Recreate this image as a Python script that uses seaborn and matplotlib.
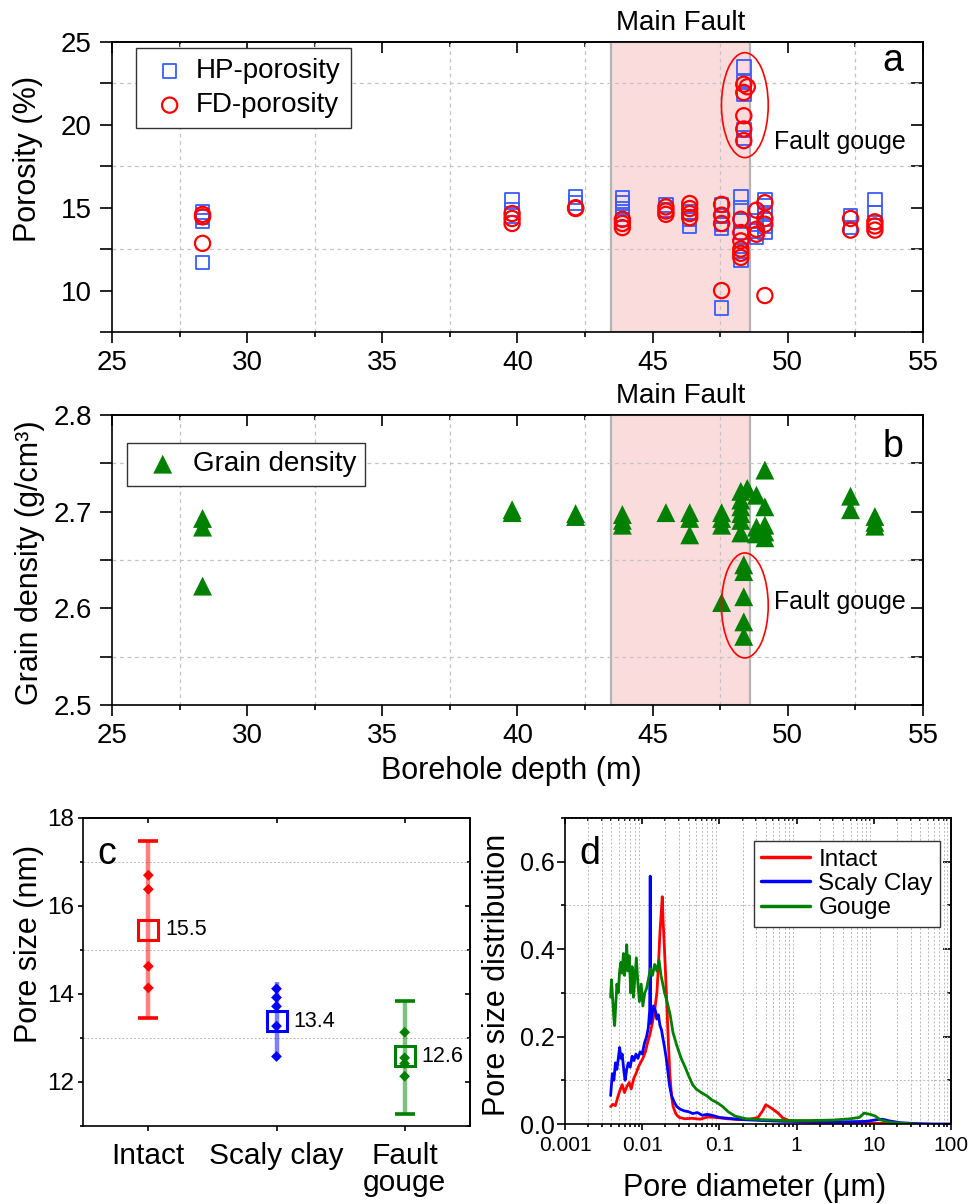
import numpy as np
import pandas as pd
import matplotlib
matplotlib.use("Agg")
import matplotlib.pyplot as plt
import seaborn as sns
from matplotlib.patches import Ellipse
from matplotlib.ticker import MultipleLocator, LogLocator, NullLocator, NullFormatter, FixedLocator

# ---------------- data ----------------
# (a) porosity vs borehole depth
hp_depth = [28.35, 28.35, 28.35, 28.35,
            39.8, 39.8, 39.8,
            42.15, 42.15,
            43.88, 43.88, 43.88, 43.88, 43.88,
            45.49, 45.49,
            46.37, 46.37, 46.37,
            47.55, 47.55, 47.55, 47.55, 47.55,
            48.26, 48.26, 48.26, 48.26, 48.26, 48.26,
            48.37, 48.37, 48.37, 48.37, 48.37,
            48.84, 48.84, 48.84,
            49.15, 49.15, 49.15, 49.15, 49.15,
            52.32, 52.32,
            53.22, 53.22, 53.22]
hp_porosity = [14.75, 14.45, 14.2, 11.7,
               15.45, 14.9, 14.5,
               15.65, 15.3,
               15.6, 15.3, 14.95, 14.6, 14.3,
               15.15, 14.85,
               14.75, 14.3, 13.9,
               15.15, 14.5, 14.0, 13.75, 8.95,
               15.65, 15.0, 14.2, 13.5, 12.4, 11.85,
               23.5, 22.6, 21.85, 19.7, 19.2,
               14.2, 13.6, 13.2,
               15.5, 15.1, 14.6, 13.9, 13.5,
               14.5, 13.8,
               15.5, 14.7, 14.1]

fd_depth = [28.35, 28.35, 28.35,
            39.8, 39.8, 39.8,
            42.15, 42.15,
            43.88, 43.88, 43.88,
            45.49, 45.49, 45.49,
            46.37, 46.37, 46.37, 46.37,
            47.55, 47.55, 47.55, 47.55,
            48.26, 48.26, 48.26, 48.26, 48.26, 48.26,
            48.37, 48.37, 48.37, 48.37, 48.37, 48.5,
            48.84, 48.84, 48.84,
            49.15, 49.15, 49.15, 49.15,
            52.32, 52.32,
            53.22, 53.22, 53.22]
fd_porosity = [14.6, 14.45, 12.85,
               14.65, 14.35, 14.05,
               15.0, 14.95,
               14.3, 14.05, 13.8,
               15.05, 14.8, 14.6,
               15.25, 14.95, 14.65, 14.4,
               15.2, 14.55, 14.05, 10.0,
               14.3, 13.5, 13.0, 12.5, 12.25, 12.0,
               22.45, 21.95, 20.55, 19.75, 19.05, 22.3,
               14.85, 13.7, 13.4,
               15.3, 14.35, 14.0, 9.7,
               14.35, 13.65,
               14.15, 13.9, 13.65]

# (b) grain density vs borehole depth
gd_depth = [28.35, 28.35, 28.35,
            39.8, 39.8,
            42.15, 42.15,
            43.88, 43.88, 43.88,
            45.49,
            46.37, 46.37, 46.37,
            47.55, 47.55, 47.55, 47.55,
            48.26, 48.26, 48.26, 48.26, 48.26, 48.26,
            48.37, 48.37, 48.37, 48.37, 48.37,
            48.5,
            48.84, 48.84, 48.84,
            49.15, 49.15, 49.15, 49.15, 49.15,
            52.32, 52.32,
            53.22, 53.22, 53.22]
gd_density = [2.693, 2.684, 2.623,
              2.702, 2.699,
              2.698, 2.695,
              2.697, 2.691, 2.686,
              2.699,
              2.699, 2.693, 2.676,
              2.699, 2.693, 2.686, 2.606,
              2.721, 2.712, 2.705, 2.698, 2.691, 2.678,
              2.645, 2.638, 2.612, 2.586, 2.571,
              2.724,
              2.717, 2.684, 2.677,
              2.743, 2.705, 2.686, 2.679, 2.673,
              2.716, 2.702,
              2.695, 2.689, 2.685]

fault_zone = [43.45, 48.6]          # main fault depth interval (m)

# (c) pore size by lithology
c_groups = ["Intact", "Scaly clay", "Fault gouge"]
c_ticklabels = ["Intact", "Scaly clay", "Fault\ngouge"]
c_means = [15.46, 13.38, 12.58]
c_low = [13.45, 12.49, 11.28]
c_high = [17.47, 14.27, 13.85]
c_point_group = ["Intact"] * 4 + ["Scaly clay"] * 5 + ["Fault gouge"] * 4
c_point_size = [16.70, 16.38, 14.63, 14.14,
                14.12, 13.92, 13.72, 13.27, 12.58,
                13.13, 12.55, 12.42, 12.13]

# (d) pore size distribution (diameter in um)
intact_d = [0.0039, 0.0042, 0.0045, 0.0048, 0.0051, 0.0055, 0.0059, 0.0063, 0.0068,
            0.0072, 0.0078, 0.0083, 0.0089, 0.0095, 0.0102, 0.0110, 0.0117, 0.0126,
            0.0135, 0.0145, 0.0155, 0.0162, 0.0170, 0.0176, 0.0182, 0.0186, 0.0193,
            0.0200, 0.0209, 0.0219, 0.0229, 0.0240, 0.0251, 0.0275, 0.0302, 0.0355,
            0.0447, 0.0562, 0.0708, 0.0891, 0.126, 0.178, 0.251, 0.316, 0.363, 0.398,
            0.437, 0.501, 0.575, 0.661, 0.794, 1.12, 2.0, 5.0, 10.0, 15.8, 20.0]
intact_psd = [0.040, 0.045, 0.042, 0.060, 0.075, 0.090, 0.072, 0.085, 0.095,
              0.080, 0.105, 0.115, 0.130, 0.140, 0.150, 0.165, 0.185, 0.205,
              0.230, 0.260, 0.300, 0.360, 0.440, 0.480, 0.520, 0.470, 0.410,
              0.350, 0.270, 0.180, 0.110, 0.065, 0.040, 0.022, 0.015, 0.012,
              0.013, 0.011, 0.016, 0.015, 0.012, 0.010, 0.011, 0.015, 0.030, 0.044,
              0.040, 0.033, 0.025, 0.014, 0.008, 0.005, 0.003, 0.002, 0.002, 0.001, 0.0]

scaly_d = [0.0039, 0.0041, 0.0043, 0.0045, 0.0047, 0.0049, 0.0051, 0.0053, 0.0055,
           0.0058, 0.0060, 0.0063, 0.0066, 0.0070, 0.0074, 0.0078, 0.0083, 0.0088,
           0.0094, 0.0100, 0.0107, 0.0114, 0.0120, 0.0125, 0.0127, 0.0129, 0.0133,
           0.0140, 0.0148, 0.0155, 0.0162, 0.0170, 0.0178, 0.0186, 0.0195, 0.0205,
           0.0215, 0.0225, 0.0240, 0.0260, 0.0280, 0.0310, 0.035, 0.040, 0.045, 0.052,
           0.060, 0.070, 0.080, 0.10, 0.13, 0.20, 0.35, 0.7, 1.5, 4.0, 8.0, 11.0,
           13.0, 16.0, 22.0, 35.0, 60.0, 100.0]
scaly_psd = [0.065, 0.115, 0.100, 0.140, 0.125, 0.150, 0.175, 0.150, 0.160,
             0.120, 0.100, 0.125, 0.140, 0.130, 0.155, 0.145, 0.160, 0.150,
             0.165, 0.160, 0.185, 0.200, 0.220, 0.260, 0.567, 0.230, 0.250,
             0.270, 0.260, 0.240, 0.250, 0.225, 0.215, 0.195, 0.175, 0.150,
             0.120, 0.090, 0.065, 0.050, 0.040, 0.034, 0.030, 0.028, 0.024, 0.026,
             0.020, 0.022, 0.020, 0.015, 0.013, 0.010, 0.008, 0.006, 0.006, 0.005, 0.006, 0.010,
             0.011, 0.007, 0.003, 0.001, 0.0, 0.0]

gouge_d = [0.0039, 0.0040, 0.0041, 0.0042, 0.0043, 0.0044, 0.0045, 0.0047, 0.0049,
           0.0051, 0.0053, 0.0055, 0.0057, 0.0059, 0.0061, 0.0063, 0.0065, 0.0068,
           0.0071, 0.0074, 0.0077, 0.0080, 0.0084, 0.0088, 0.0092, 0.0097, 0.0102,
           0.0108, 0.0114, 0.0120, 0.0128, 0.0136, 0.0145, 0.0155, 0.0165, 0.0175,
           0.0185, 0.0195, 0.021, 0.023, 0.025, 0.028, 0.032, 0.036, 0.040, 0.045,
           0.050, 0.058, 0.068, 0.080, 0.095, 0.11, 0.13, 0.16, 0.22, 0.35, 0.7,
           1.5, 3.0, 5.0, 6.5, 7.5, 9.0, 10.5, 12.0, 16.0, 22.0, 35.0]
gouge_psd = [0.290, 0.330, 0.300, 0.270, 0.240, 0.225, 0.260, 0.320, 0.300,
             0.350, 0.370, 0.345, 0.390, 0.340, 0.370, 0.410, 0.350, 0.385,
             0.300, 0.360, 0.290, 0.330, 0.380, 0.320, 0.280, 0.320, 0.270,
             0.300, 0.310, 0.330, 0.355, 0.340, 0.365, 0.350, 0.375, 0.340,
             0.320, 0.300, 0.280, 0.250, 0.210, 0.180, 0.150, 0.130, 0.110, 0.090,
             0.080, 0.072, 0.065, 0.055, 0.048, 0.040, 0.028, 0.018, 0.012, 0.010, 0.008,
             0.008, 0.009, 0.012, 0.015, 0.025, 0.022, 0.018, 0.010, 0.004, 0.002, 0.0]

d_xticks = [0.001, 0.01, 0.1, 1, 10, 100]
d_xticklabels = ["0.001", "0.01", "0.1", "1", "10", "100"]

# ---------------- style ----------------
sns.set_theme(style="ticks")
plt.rcParams["font.family"] = ["Liberation Sans", "DejaVu Sans"]
plt.rcParams["axes.edgecolor"] = "black"
plt.rcParams["axes.linewidth"] = 1.2
plt.rcParams["xtick.color"] = "black"
plt.rcParams["ytick.color"] = "black"
plt.rcParams["text.color"] = "black"
plt.rcParams["axes.labelcolor"] = "black"

W, H = 973, 1204
fig = plt.figure(figsize=(W / 100, H / 100), dpi=100)


def px_axes(left, top, right, bottom):
    return fig.add_axes([left / W, (H - bottom) / H, (right - left) / W, (bottom - top) / H])


def mirror_ticks(ax, xmaj, xmin, ymaj, ymin, xlen, ylen):
    top = ax.secondary_xaxis("top")
    top.xaxis.set_major_locator(xmaj)
    top.xaxis.set_minor_locator(xmin)
    top.tick_params(which="both", direction="in", labeltop=False, width=1.2)
    top.tick_params(which="major", length=xlen[0])
    top.tick_params(which="minor", length=xlen[1])
    right = ax.secondary_yaxis("right")
    right.yaxis.set_major_locator(ymaj)
    right.yaxis.set_minor_locator(ymin)
    right.tick_params(which="both", direction="in", labelright=False, width=1.2)
    right.tick_params(which="major", length=ylen[0])
    right.tick_params(which="minor", length=ylen[1])


grid_ab = dict(color="#c4c4c4", linestyle=(0, (3, 3)), linewidth=0.9)
red, blue, green = "#ff0000", "#0000ff", "#008000"

# ---------------- (a) ----------------
ax_a = px_axes(112, 42, 923, 332)
ax_a.axvspan(*fault_zone, facecolor="#fadcdc", edgecolor="#b4b4b4", lw=1.6, zorder=0.2)
sns.scatterplot(x=hp_depth, y=hp_porosity, marker="s", s=95, ax=ax_a, label="HP-porosity", zorder=3)
ax_a.collections[-1].set_facecolor("none")
ax_a.collections[-1].set_edgecolor("#3a5cff")
ax_a.collections[-1].set_linewidth(1.3)
sns.scatterplot(x=fd_depth, y=fd_porosity, marker="o", s=120, ax=ax_a, label="FD-porosity", zorder=4)
ax_a.collections[-1].set_facecolor("none")
ax_a.collections[-1].set_edgecolor(red)
ax_a.collections[-1].set_linewidth(1.6)
ax_a.add_patch(Ellipse((48.41, 21.19), 1.73, 6.33, fill=False, ec=red, lw=1.2, zorder=5))
ax_a.text(49.5, 18.98, "Fault gouge", fontsize=18, ha="left", va="center")

# ---------------- (b) ----------------
ax_b = px_axes(112, 415, 923, 705)
ax_b.axvspan(*fault_zone, facecolor="#fadcdc", edgecolor="#b4b4b4", lw=1.6, zorder=0.2)
sns.scatterplot(x=gd_depth, y=gd_density, marker="^", s=185, color=green, edgecolor="none",
                ax=ax_b, label="Grain density", zorder=3)
ax_b.add_patch(Ellipse((48.41, 2.603), 1.73, 0.1086, fill=False, ec=red, lw=1.2, zorder=5))
ax_b.text(49.5, 2.607, "Fault gouge", fontsize=18, ha="left", va="center")

for ax, (y0, y1), ystep in [(ax_a, (7.5, 25), 5), (ax_b, (2.5, 2.8), 0.1)]:
    ax.set_xlim(25, 55)
    ax.set_ylim(y0, y1)
    ax.xaxis.set_major_locator(MultipleLocator(5))
    ax.xaxis.set_minor_locator(MultipleLocator(2.5))
    ax.yaxis.set_major_locator(MultipleLocator(ystep))
    ax.yaxis.set_minor_locator(MultipleLocator(ystep / 2))
    ax.set_axisbelow(True)
    ax.grid(which="minor", **grid_ab)
    ax.grid(which="major", visible=False)
    ax.tick_params(which="both", direction="out", width=1.2, labelsize=20)
    ax.tick_params(axis="x", which="major", length=8, pad=5)
    ax.tick_params(axis="x", which="minor", length=3.5)
    ax.tick_params(axis="y", which="both", length=8.5, pad=6)
    mirror_ticks(ax, MultipleLocator(5), MultipleLocator(2.5),
                 MultipleLocator(ystep), MultipleLocator(ystep / 2), (8, 3.5), (8.5, 8.5))
    ax.text(sum(fault_zone) / 2, 1.02, "Main Fault", fontsize=20, ha="center", va="bottom",
            transform=ax.get_xaxis_transform())

ax_a.set_ylabel("Porosity (%)", fontsize=22)
ax_a.yaxis.set_label_coords(-0.0855, 0.598)
ax_a.set_xlabel("")
ax_b.set_ylabel("Grain density (g/cm³)", fontsize=22)
ax_b.yaxis.set_label_coords(-0.083, 0.491)
ax_b.set_xlabel("Borehole depth (m)", fontsize=22)
ax_b.xaxis.set_label_coords(0.4925, -0.175)

ax_a.text(0.976, 0.90, "a", transform=ax_a.transAxes, fontsize=27, ha="right", va="baseline")
ax_b.text(0.976, 0.856, "b", transform=ax_b.transAxes, fontsize=27, ha="right", va="baseline")

leg_kw = dict(frameon=True, fancybox=False, framealpha=1, edgecolor="#333333", fontsize=20,
              handletextpad=0.1, borderaxespad=0)
leg = ax_a.legend(loc="upper left", bbox_to_anchor=(0.030, 0.978), handlelength=1.7,
                  borderpad=0.35, labelspacing=0.3, **leg_kw)
leg.get_frame().set_linewidth(1.0)
leg = ax_b.legend(loc="upper left", bbox_to_anchor=(0.018, 0.903), handlelength=2.0,
                  borderpad=0.3, **leg_kw)
leg.get_frame().set_linewidth(1.0)

# ---------------- (c) ----------------
ax_c = px_axes(83, 818, 470, 1126)
c_colors = [red, blue, green]
pts = pd.DataFrame({"group": c_point_group, "size": c_point_size})
sns.stripplot(data=pts, x="group", y="size", hue="group", order=c_groups, hue_order=c_groups,
              palette=c_colors, marker="D", size=5.5, jitter=False, legend=False, ax=ax_c,
              zorder=4, linewidth=0)
for i, (m, lo, hi, col, cap) in enumerate(zip(c_means, c_low, c_high, c_colors, [7, 0, 7])):
    eb = ax_c.errorbar(i, m, yerr=[[m - lo], [hi - m]], fmt="none", ecolor=col,
                       elinewidth=3.2, capsize=cap, capthick=2.6, zorder=3)
    eb[2][0].set_alpha(0.5)
    ax_c.plot(i, m, marker="s", ms=14, mfc="none", mec=col, mew=2.2, zorder=5)
    ax_c.text(i + 0.13, m, f"{m:.1f}", fontsize=15.5, ha="left", va="center")
ax_c.set_xlim(-0.51, 2.51)
ax_c.set_ylim(11, 18)
ax_c.set_xticks(range(len(c_groups)), labels=c_ticklabels)
for lbl in ax_c.get_xticklabels():
    lbl.set_linespacing(0.95)
ax_c.yaxis.set_major_locator(MultipleLocator(2))
ax_c.yaxis.set_minor_locator(MultipleLocator(1))
ax_c.set_axisbelow(True)
ax_c.grid(which="minor", axis="y", color="#b4b4b4", linestyle=(0, (2, 2)), linewidth=0.7)
ax_c.grid(which="major", visible=False)
ax_c.tick_params(which="both", direction="out", width=1.2)
ax_c.tick_params(axis="x", which="major", length=3.5, pad=8, labelsize=21.5)
ax_c.tick_params(axis="y", which="major", length=3.5, pad=3, labelsize=17.5)
ax_c.tick_params(axis="y", which="minor", length=2)
mirror_ticks(ax_c, FixedLocator([0, 1, 2]), NullLocator(), MultipleLocator(2), MultipleLocator(1),
             (3.5, 0), (3.5, 2))
ax_c.set_xlabel("")
ax_c.set_ylabel("Pore size (nm)", fontsize=22)
ax_c.yaxis.set_label_coords(-0.102, 0.59)
ax_c.text(0.036, 0.852, "c", transform=ax_c.transAxes, fontsize=27, ha="left", va="baseline")

# ---------------- (d) ----------------
ax_d = px_axes(565, 818, 951, 1124)
ax_d.set_xscale("log")
for name, xs, ys, col in [("Intact", intact_d, intact_psd, red),
                          ("Scaly Clay", scaly_d, scaly_psd, blue),
                          ("Gouge", gouge_d, gouge_psd, green)]:
    sns.lineplot(x=xs, y=ys, ax=ax_d, color=col, lw=2.0, label=name, estimator=None, sort=False)
ax_d.set_xlim(0.001, 100)
ax_d.set_ylim(0, 0.7)
ax_d.set_xticks(d_xticks, labels=d_xticklabels)
ax_d.xaxis.set_minor_locator(LogLocator(base=10, subs=np.arange(2, 10), numticks=20))
ax_d.xaxis.set_minor_formatter(NullFormatter())
ax_d.yaxis.set_major_locator(MultipleLocator(0.2))
ax_d.yaxis.set_minor_locator(MultipleLocator(0.1))
ax_d.set_axisbelow(True)
ax_d.grid(which="minor", color="#b8b8b8", linestyle=(0, (2, 2)), linewidth=0.7)
ax_d.grid(which="major", visible=False)
ax_d.tick_params(which="both", direction="out", width=1.2)
ax_d.tick_params(axis="x", which="major", length=4.5, pad=4, labelsize=15)
ax_d.tick_params(axis="x", which="minor", length=2.5)
ax_d.tick_params(axis="y", which="major", length=5.5, pad=2, labelsize=18)
ax_d.tick_params(axis="y", which="minor", length=3)
mirror_ticks(ax_d, LogLocator(base=10, numticks=10),
             LogLocator(base=10, subs=np.arange(2, 10), numticks=20),
             MultipleLocator(0.2), MultipleLocator(0.1), (4.5, 2.5), (5.5, 3))
ax_d.set_xlabel("Pore diameter (μm)", fontsize=22)
ax_d.xaxis.set_label_coords(0.492, -0.16)
ax_d.set_ylabel("Pore size distribution", fontsize=22)
ax_d.yaxis.set_label_coords(-0.138, 0.487)
ax_d.text(0.037, 0.851, "d", transform=ax_d.transAxes, fontsize=27, ha="left", va="baseline")
leg = ax_d.legend(loc="upper right", bbox_to_anchor=(0.9715, 0.924), frameon=True, fancybox=False,
                  framealpha=1, edgecolor="#333333", fontsize=17.5, borderpad=0.3,
                  handlelength=2.0, handletextpad=0.35, labelspacing=0.1, borderaxespad=0)
leg.get_frame().set_linewidth(1.0)
for line in leg.get_lines():
    line.set_linewidth(2.5)

fig.savefig("out.png", dpi=100)
